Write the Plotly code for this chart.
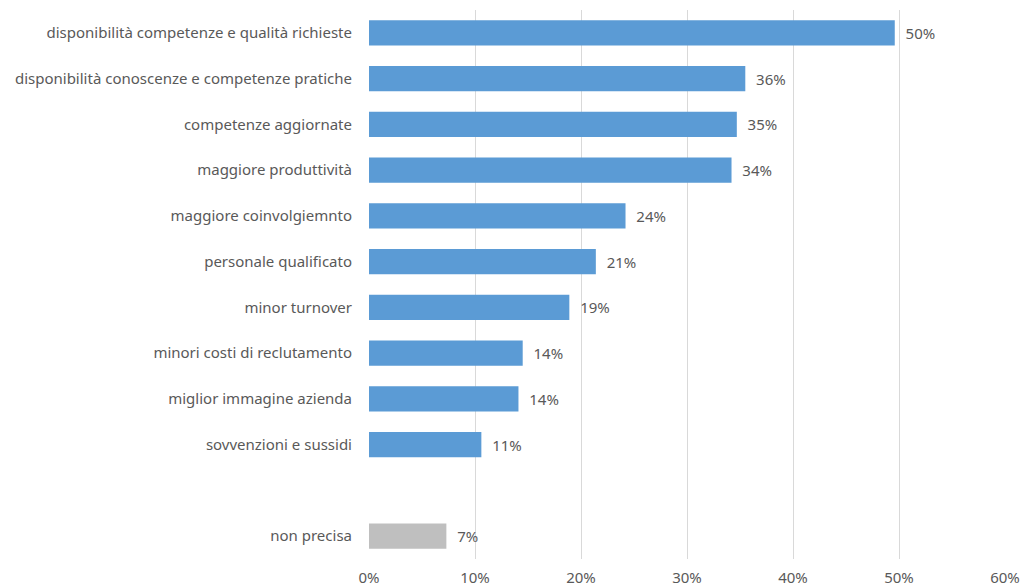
import plotly.graph_objects as go

# Reasons / benefits, share of respondents (fraction)
categories = [
    "disponibilità competenze e qualità richieste",
    "disponibilità conoscenze e competenze pratiche",
    "competenze aggiornate",
    "maggiore produttività",
    "maggiore coinvolgiemnto",
    "personale qualificato",
    "minor turnover",
    "minori costi di reclutamento",
    "miglior immagine azienda",
    "sovvenzioni e sussidi",
]
values = [0.496, 0.355, 0.347, 0.342, 0.242, 0.214, 0.189, 0.145, 0.141, 0.106]

other_category = "non precisa"
other_value = 0.073

spacer = " "
tick_vals = [0, 0.1, 0.2, 0.3, 0.4, 0.5, 0.6]
tick_text = ["0%", "10%", "20%", "30%", "40%", "50%", "60%"]

order = categories + [spacer, other_category]

FONT = "Noto Sans"
TEXT_COLOR = "#595959"
PAD = "\u00a0\u00a0"

fig = go.Figure()
fig.add_trace(go.Bar(
    y=categories, x=values, orientation="h",
    marker=dict(color="#5B9BD5", line=dict(width=0)),
    width=0.55,
    text=values, texttemplate=PAD + "%{x:.0%}", textposition="outside",
    textfont=dict(family=FONT, size=15, color=TEXT_COLOR),
    cliponaxis=False, hoverinfo="skip",
))
fig.add_trace(go.Bar(
    y=[other_category], x=[other_value], orientation="h",
    marker=dict(color="#BFBFBF", line=dict(width=0)),
    width=0.55,
    text=[other_value], texttemplate=PAD + "%{x:.0%}", textposition="outside",
    textfont=dict(family=FONT, size=15, color=TEXT_COLOR),
    cliponaxis=False, hoverinfo="skip",
))

fig.update_layout(
    width=1023, height=588,
    margin=dict(l=369, r=18, t=10, b=29, autoexpand=False),
    paper_bgcolor="white", plot_bgcolor="white",
    showlegend=False, barmode="overlay",
    font=dict(family=FONT, size=15, color=TEXT_COLOR),
)
fig.update_xaxes(
    range=[0, 0.6], tickvals=tick_vals, ticktext=tick_text,
    showgrid=True, gridcolor="#D9D9D9", gridwidth=1,
    zeroline=False, showline=False, ticks="",
    automargin=False, ticklabelstandoff=8,
    tickfont=dict(family=FONT, size=15, color=TEXT_COLOR),
)
fig.update_yaxes(
    type="category", categoryorder="array", categoryarray=order[::-1],
    range=[-0.5, len(order) - 0.5],
    showgrid=False, zeroline=False, showline=False, ticks="",
    automargin=False, ticklabelstandoff=16,
    tickfont=dict(family=FONT, size=15, color=TEXT_COLOR),
)

fig.write_html("out.html")
